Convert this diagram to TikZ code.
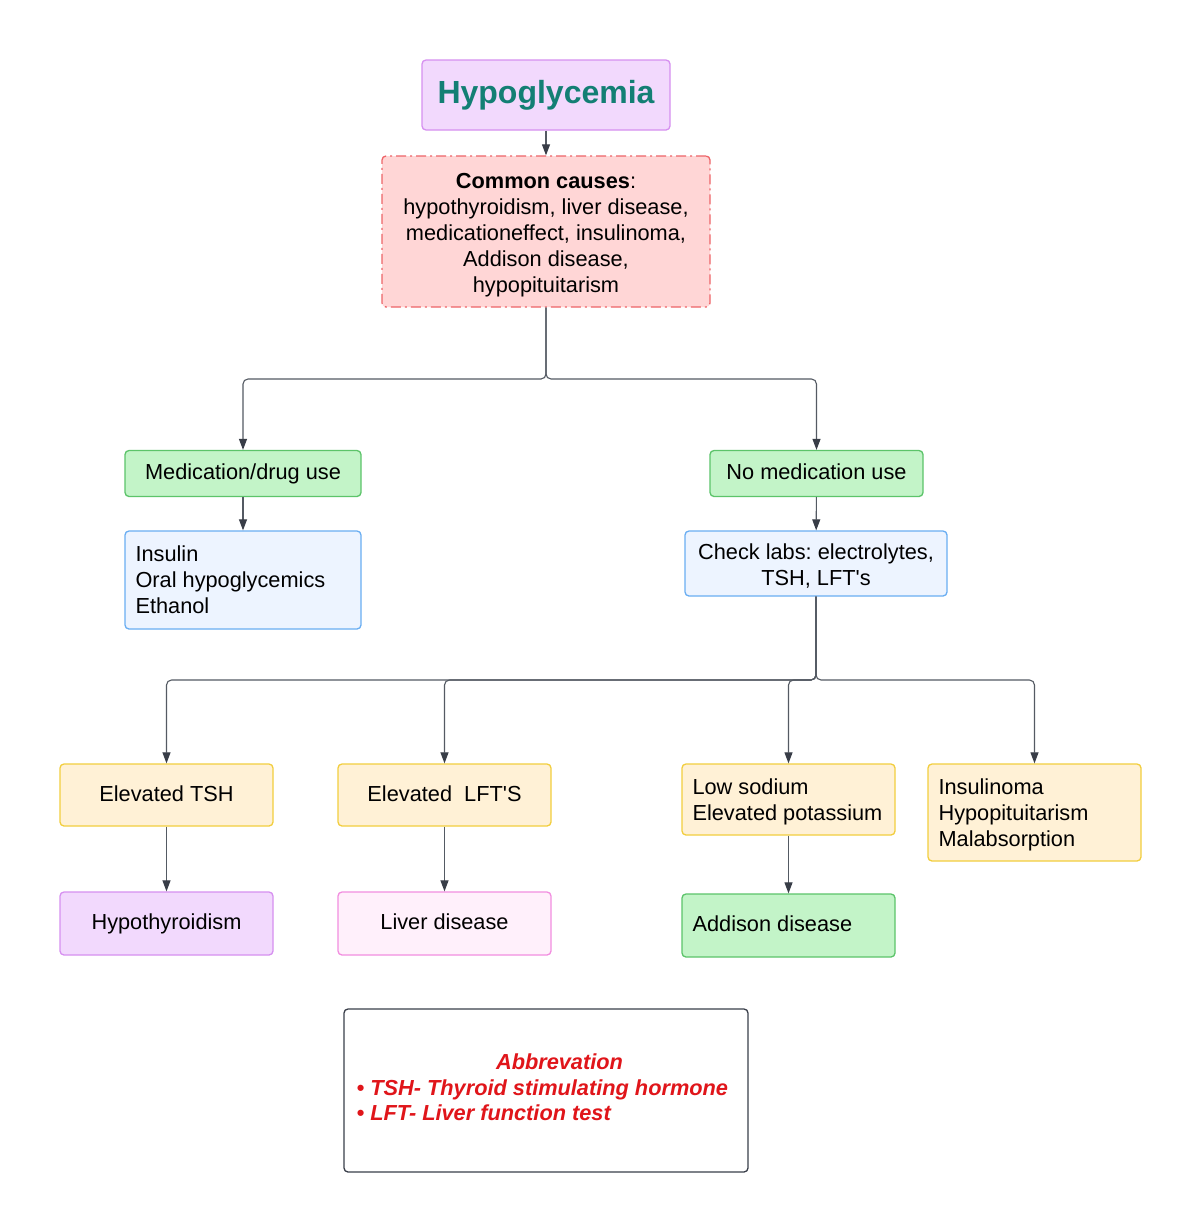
\documentclass[tikz,border=0pt]{standalone}
\usepackage{fontspec}
\setmainfont{Liberation Sans}
\usetikzlibrary{arrows.meta}
\frenchspacing
\definecolor{purpFill}{HTML}{F2D9FD}
\definecolor{purpLine}{HTML}{D690F0}
\definecolor{titleCol}{HTML}{137F74}
\definecolor{redFill}{HTML}{FFD6D6}
\definecolor{redLine}{HTML}{EE6468}
\definecolor{greenFill}{HTML}{C3F4C8}
\definecolor{greenLine}{HTML}{5CC46A}
\definecolor{blueFill}{HTML}{EDF4FF}
\definecolor{blueLine}{HTML}{6AAEF2}
\definecolor{yelFill}{HTML}{FFF1D6}
\definecolor{yelLine}{HTML}{F2CE3E}
\definecolor{pinkFill}{HTML}{FFF0FB}
\definecolor{pinkLine}{HTML}{F28EE0}
\definecolor{lineCol}{HTML}{545A63}
\definecolor{tipCol}{HTML}{383D47}
\definecolor{darkLine}{HTML}{3A3F4A}
\definecolor{abbrRed}{HTML}{E0151A}
\newcommand\myfs{\fontsize{21.75}{26}\selectfont\frenchspacing}
\tikzset{
  base/.style={rounded corners=4pt, line width=1.3pt, font=\myfs, align=center, inner sep=0pt, text=black},
  one/.style={text height=16pt, text depth=3.5pt},
  purplebox/.style={base, fill=purpFill, draw=purpLine},
  redbox/.style={base, fill=redFill, draw=redLine, dash pattern=on 10pt off 4pt on 2pt off 4pt},
  greenbox/.style={base, fill=greenFill, draw=greenLine},
  bluebox/.style={base, fill=blueFill, draw=blueLine},
  yelbox/.style={base, fill=yelFill, draw=yelLine},
  pinkbox/.style={base, fill=pinkFill, draw=pinkLine},
  txt/.style={font=\myfs, inner sep=0pt, text=black},
  conn/.style={draw=lineCol, line width=1.1pt, rounded corners=5pt,
    -{Triangle[length=11pt,width=8pt,color=tipCol]}},
  abbrtext/.style={font=\myfs\bfseries\itshape, text=abbrRed, inner sep=0pt}
}
\begin{document}
\begin{tikzpicture}[x=1pt,y=-1pt]
\fill[white] (0,0) rectangle (1200,1232);
\useasboundingbox (0,0) rectangle (1200,1232);

% top
\node[purplebox, minimum width=248pt, minimum height=70pt, font=\fontsize{32}{38}\selectfont\bfseries, text=titleCol] (hypo) at (546,95) {Hypoglycemia};
\node[redbox, minimum width=328pt, minimum height=151pt] (cc) at (546,231.5) {};
\node[txt, align=center] (cct) at (546,235) {\textbf{Common causes}:\\hypothyroidism, liver disease,\\medicationeffect, insulinoma,\\Addison disease,\\hypopituitarism};

% level 2
\node[greenbox, one, minimum width=236pt, minimum height=46pt] (med) at (243,473.5) {Medication/drug use};
\node[greenbox, one, minimum width=213pt, minimum height=46pt] (nomed) at (816.5,473.5) {No medication use};

\node[bluebox, minimum width=236pt, minimum height=98pt] (ins) at (243,580) {};
\node[txt, align=left, anchor=west] (inst) at ([xshift=11pt]ins.west) {Insulin\\Oral hypoglycemics\\Ethanol};
\node[bluebox, minimum width=262pt, minimum height=65pt] (labs) at (816,563.5) {};
\node[txt, align=center] (labst) at (816,566) {Check labs: electrolytes,\\TSH, LFT\textquotesingle s};

% level 3
\node[yelbox, one, minimum width=213pt, minimum height=62pt] (tsh) at (166.5,795) {Elevated TSH};
\node[yelbox, one, minimum width=213pt, minimum height=62pt] (lft) at (444.5,795) {Elevated\ \ LFT\textquotesingle S};
\node[yelbox, minimum width=213pt, minimum height=71pt] (na) at (788.5,799.5) {};
\node[txt, align=left, anchor=west] (nat) at ([xshift=11pt,yshift=-2.5pt]na.west) {Low sodium\\Elevated potassium};
\node[yelbox, minimum width=213pt, minimum height=97pt] (insul) at (1034.5,812.5) {};
\node[txt, align=left, anchor=west] (insult) at ([xshift=11pt,yshift=-2.5pt]insul.west) {Insulinoma\\Hypopituitarism\\Malabsorption};

% level 4
\node[purplebox, one, minimum width=213pt, minimum height=63pt] (hypot) at (166.5,923.5) {Hypothyroidism};
\node[pinkbox, one, minimum width=213pt, minimum height=63pt] (liver) at (444.5,923.5) {Liver disease};
\node[greenbox, minimum width=213pt, minimum height=63pt] (addi) at (788.5,925.5) {};
\node[txt, one, anchor=west] (addit) at ([xshift=11pt]addi.west) {Addison disease};

% abbreviation box
\node[draw=darkLine, fill=white, line width=1.3pt, rounded corners=4pt, minimum width=404pt, minimum height=163pt, inner sep=0pt] (abbr) at (546,1090.5) {};
\node[abbrtext, anchor=base] (ab1) at (559.5,1069.3) {Abbrevation};
\node[abbrtext, anchor=base west] (ab2) at (356.5,1095) {• TSH- Thyroid stimulating hormone};
\node[abbrtext, anchor=base west] (ab3) at (356.5,1120.7) {• LFT- Liver function test};

% connectors
\coordinate (j1) at (546,379);
\coordinate (j2) at (816,680);
\draw[conn] (hypo) -- (cc);
\draw[conn] (cc.south) -- (j1) -| (med.north);
\draw[conn] (cc.south) -- (j1) -| (nomed.north);
\draw[conn] (med) -- (ins);
\draw[conn] (nomed) -- (labs);
\draw[conn] (labs.south) -- (j2) -| (tsh.north);
\draw[conn] (labs.south) -- (j2) -| (lft.north);
\draw[conn] (labs.south) -- (j2) -| (na.north);
\draw[conn] (labs.south) -- (j2) -| (insul.north);
\draw[conn] (tsh) -- (hypot);
\draw[conn] (lft) -- (liver);
\draw[conn] (na) -- (addi);
\end{tikzpicture}
\end{document}
